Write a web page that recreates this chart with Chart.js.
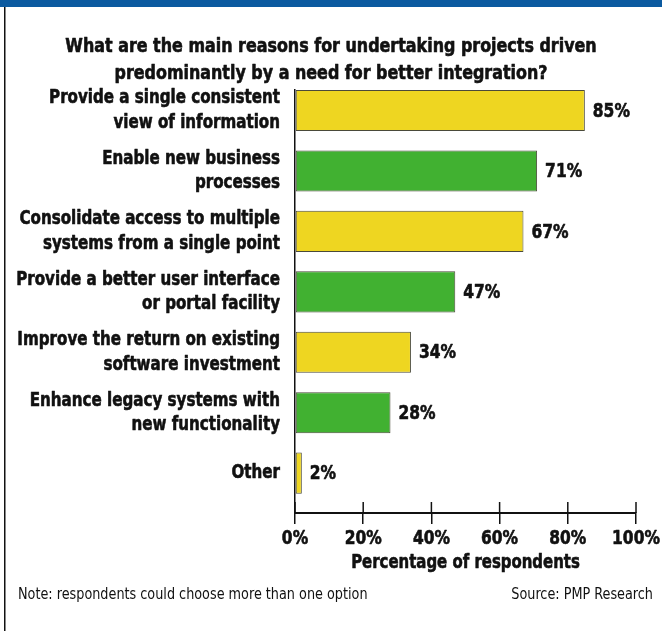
<!DOCTYPE html>
<html>
<head>
<meta charset="utf-8">
<script src="https://cdn.jsdelivr.net/npm/chart.js@4/dist/chart.umd.min.js"></script>
<style>
  html, body { margin: 0; padding: 0; background: #ffffff; }
  #wrap { position: relative; width: 662px; height: 631px; }
</style>
</head>
<body>
<div id="wrap"><canvas id="chart" width="662" height="631"></canvas></div>
<script>
// Survey question and answers
const titleLines = [
  'What are the main reasons for undertaking projects driven',
  'predominantly by a need for better integration?'
];
const reasons = [
  ['Provide a single consistent', 'view of information'],
  ['Enable new business', 'processes'],
  ['Consolidate access to multiple', 'systems from a single point'],
  ['Provide a better user interface', 'or portal facility'],
  ['Improve the return on existing', 'software investment'],
  ['Enhance legacy systems with', 'new functionality'],
  ['Other']
];
const percentages = [85, 71, 67, 47, 34, 28, 2];
const xTickValues = [0, 20, 40, 60, 80, 100];
const xAxisTitle = 'Percentage of respondents';
const noteText = 'Note: respondents could choose more than one option';
const sourceText = 'Source: PMP Research';

const YELLOW = '#EED621';
const GREEN = '#41B131';
const BLUE = '#0B5AA0';
const INK = '#111111';
const FONT = "'DejaVu Sans Condensed', 'DejaVu Sans', sans-serif";
const BOLD20 = "bold 20px " + FONT;
const NARROW = 0.84;   // horizontal squeeze for the heavy condensed lettering

const barColors = percentages.map((_, i) => (i % 2 === 0 ? YELLOW : GREEN));

// Write one line of text, squeezed horizontally around its anchor point;
// a thin outline in the same ink makes the heavy lettering a touch blacker
function squeezedText(ctx, text, x, y, align, font, sx, heavy) {
  ctx.save();
  ctx.font = font;
  ctx.fillStyle = INK;
  ctx.strokeStyle = INK;
  ctx.lineWidth = 0.6;
  ctx.lineJoin = 'round';
  ctx.textAlign = align;
  ctx.textBaseline = 'middle';
  ctx.translate(x, y);
  ctx.scale(sx, 1);
  ctx.fillText(text, 0, 0);
  if (heavy) ctx.strokeText(text, 0, 0);
  ctx.restore();
}

// Page frame: blue band along the top and a thin rule down the left side
const framePlugin = {
  id: 'frame',
  beforeDraw(chart) {
    const ctx = chart.ctx;
    ctx.save();
    ctx.fillStyle = BLUE;
    ctx.fillRect(0, 0, chart.width, 7);
    ctx.fillStyle = INK;
    ctx.fillRect(4, 7, 1.5, chart.height - 7);
    ctx.restore();
  }
};

// Percentage printed just past the end of each bar
const valueLabelPlugin = {
  id: 'valueLabels',
  afterDatasetsDraw(chart) {
    const ctx = chart.ctx;
    const meta = chart.getDatasetMeta(0);
    meta.data.forEach((bar, i) => {
      squeezedText(ctx, percentages[i] + '%', bar.x + 8, bar.y + 1, 'left', BOLD20, 0.86, true);
    });
  }
};

// Title, category labels, axis labels, tick marks and footnotes
const textPlugin = {
  id: 'texts',
  afterDraw(chart) {
    const ctx = chart.ctx;
    const xs = chart.scales.x;
    const ys = chart.scales.y;
    const area = chart.chartArea;

    // question heading
    titleLines.forEach((line, i) => {
      squeezedText(ctx, line, 331, 47 + i * 27, 'center', BOLD20, 0.885, true);
    });

    // category labels, right aligned beside the axis
    ys.ticks.forEach((t, i) => {
      const cy = ys.getPixelForTick(i);
      const lines = reasons[t.value];
      const step = 24.6;
      const first = cy - (lines.length - 1) * step / 2;
      lines.forEach((line, j) => {
        squeezedText(ctx, line, 280, first + j * step, 'right', BOLD20, NARROW, true);
      });
    });

    // x tick marks cross the axis line: upper halves here, lower halves by the grid
    ctx.save();
    ctx.strokeStyle = INK;
    ctx.lineWidth = 1.5;
    xs.ticks.forEach((t, i) => {
      const px = xs.getPixelForTick(i);
      ctx.beginPath();
      ctx.moveTo(px, area.bottom - 11);
      ctx.lineTo(px, area.bottom);
      ctx.stroke();
    });
    ctx.restore();

    // x tick labels and axis title
    xs.ticks.forEach((t, i) => {
      squeezedText(ctx, t.value + '%', xs.getPixelForTick(i), 539, 'center', BOLD20, 0.86, true);
    });
    squeezedText(ctx, xAxisTitle, (xs.left + xs.right) / 2, 563, 'center', BOLD20, 0.83, true);

    // footnotes
    squeezedText(ctx, noteText, 18, 595, 'left', "15px " + FONT, 0.95, false);
    squeezedText(ctx, sourceText, 653, 595, 'right', "15px " + FONT, 0.95, false);
  }
};

new Chart(document.getElementById('chart'), {
  type: 'bar',
  data: {
    labels: reasons.map(r => r.join(' ')),
    datasets: [{
      data: percentages,
      backgroundColor: barColors,
      borderColor: '#4a4a3a',
      borderWidth: 1,
      borderSkipped: false,
      barPercentage: 0.68,
      categoryPercentage: 1
    }]
  },
  options: {
    indexAxis: 'y',
    responsive: false,
    animation: false,
    devicePixelRatio: 1,
    layout: { padding: { top: 90, left: 0, right: 26, bottom: 57 } },
    plugins: {
      legend: { display: false },
      tooltip: { enabled: false },
      title: { display: false }
    },
    scales: {
      x: {
        type: 'linear',
        min: 0,
        max: 100,
        afterBuildTicks(scale) {
          scale.ticks = xTickValues.map(v => ({ value: v }));
        },
        afterFit(scale) {
          scale.height = 61;
          scale.paddingLeft = 0;
          scale.paddingRight = 0;
        },
        ticks: { display: false },
        grid: {
          drawOnChartArea: false,
          drawTicks: true,
          tickLength: 11,
          color: INK,
          lineWidth: 1.5
        },
        border: { display: true, color: INK, width: 2 }
      },
      y: {
        type: 'category',
        offset: true,
        afterBuildTicks(scale) {
          // first row sits a little closer to the top of the plot than the last row does to the axis
          scale._startValue = -0.34;
          scale._valueRange = 7;
        },
        afterFit(scale) {
          scale.width = 295;
          scale.paddingTop = 0;
          scale.paddingBottom = 0;
        },
        ticks: { display: false, autoSkip: false },
        grid: { display: false, drawTicks: false },
        border: { display: true, color: INK, width: 1.5 }
      }
    }
  },
  plugins: [framePlugin, valueLabelPlugin, textPlugin]
});
</script>
</body>
</html>
